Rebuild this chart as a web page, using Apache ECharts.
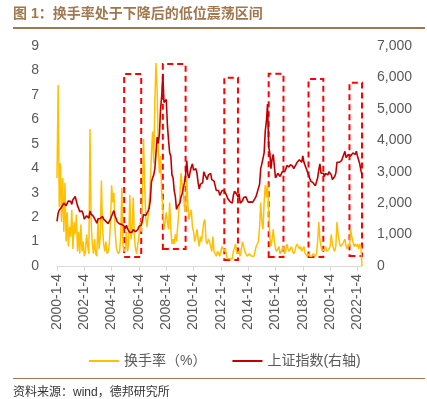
<!DOCTYPE html>
<html>
<head>
<meta charset="utf-8">
<script src="https://cdn.jsdelivr.net/npm/echarts@6/dist/echarts.min.js"></script>
<style>
  html, body { margin: 0; padding: 0; background: #fff; }
  #chart { width: 427px; height: 399px; }
</style>
</head>
<body>
<div id="chart"></div>
<script>
// monthly samples, 2000-01 .. 2022-05
const turnover = [
  3.6, 7.4, 2.4, 4.2, 1.8, 3.6, 1.4, 3.4, 1.0, 2.2, 0.8, 1.6,
  1.2, 2.3, 0.7, 1.8, 1.3, 2.1, 0.6, 1.4, 0.5, 1.7, 0.6, 1.0,
  0.4, 0.6, 1.3, 0.8, 0.5, 5.6, 1.8, 0.9, 0.5, 1.1, 0.5, 0.4,
  1.9, 0.7, 1.2, 3.5, 1.6, 0.9, 0.6, 1.0, 0.5, 0.6, 0.9, 1.8,
  3.3, 2.6, 3.0, 1.5, 0.8, 0.6, 0.5, 0.6, 1.2, 3.2, 0.8, 0.6,
  0.7, 1.4, 0.6, 0.9, 2.9, 1.1, 1.5, 2.8, 1.2, 0.7, 0.5, 0.9,
  1.2, 1.8, 1.4, 2.6, 5.2, 3.4, 2.0, 1.6, 2.0, 2.6, 3.4, 4.6,
  5.5, 4.2, 6.8, 8.3, 7.2, 4.8, 3.8, 4.5, 3.0, 2.4, 1.5, 1.8,
  2.2, 1.8, 1.5, 2.6, 1.5, 0.9, 1.1, 0.9, 1.3, 1.0, 1.6, 2.2,
  2.9, 3.8, 3.3, 3.0, 2.4, 2.2, 3.6, 2.5, 1.9, 2.1, 2.3, 1.6,
  1.4, 1.0, 1.2, 1.5, 1.1, 0.8, 1.2, 1.0, 1.0, 1.8, 1.9, 1.0,
  0.9, 1.1, 1.0, 0.8, 0.6, 1.2, 0.6, 0.5, 0.4, 0.6, 0.5, 0.4,
  0.4, 0.8, 0.7, 0.6, 0.7, 0.4, 0.3, 0.3, 0.3, 0.3, 0.3, 0.6,
  0.6, 0.9, 0.5, 0.5, 0.6, 0.4, 0.7, 1.0, 0.8, 0.6, 0.5, 0.4,
  0.4, 0.5, 0.5, 0.4, 0.4, 0.4, 0.6, 0.8, 0.9, 1.0, 1.6, 2.6,
  1.8, 1.5, 2.6, 3.3, 2.8, 3.4, 2.3, 1.2, 0.8, 1.1, 1.5, 1.0,
  0.7, 0.6, 0.7, 0.8, 0.5, 0.6, 0.7, 0.8, 0.5, 0.6, 0.9, 0.7,
  0.6, 0.7, 0.8, 0.6, 0.5, 0.6, 0.8, 0.9, 0.8, 0.7, 0.8, 0.6,
  0.7, 0.8, 0.5, 0.5, 0.4, 0.5, 0.4, 0.4, 0.4, 0.5, 0.5, 0.4,
  0.5, 1.0, 1.8, 1.1, 0.8, 0.6, 0.6, 0.7, 0.8, 0.6, 0.6, 0.7,
  0.8, 1.3, 0.9, 0.7, 0.6, 0.8, 1.8, 1.3, 1.0, 0.8, 0.8, 0.9,
  1.0, 1.1, 0.8, 0.7, 0.9, 0.8, 1.5, 1.2, 1.0, 0.8, 0.9, 0.8,
  0.9, 0.7, 0.9, 0.8, 0.0
];
const sseIndex = [
  1420, 1680, 1780, 1830, 1870, 1920, 2000, 2030, 1920, 1960, 2070, 2070,
  2060, 1960, 2110, 2120, 2210, 2240, 1920, 1830, 1730, 1690, 1750, 1650,
  1490, 1520, 1600, 1630, 1520, 1750, 1650, 1670, 1580, 1510, 1440, 1360,
  1500, 1510, 1510, 1520, 1580, 1490, 1480, 1420, 1370, 1350, 1400, 1500,
  1590, 1680, 1760, 1600, 1550, 1400, 1390, 1340, 1400, 1320, 1340, 1270,
  1190, 1300, 1180, 1160, 1060, 1080, 1080, 1160, 1160, 1090, 1100, 1160,
  1260, 1300, 1300, 1440, 1640, 1670, 1610, 1660, 1750, 1840, 2100, 2680,
  2800, 2900, 3100, 3600, 4100, 3900, 4200, 5000, 5400, 6100, 5200, 5200,
  5300, 4500, 4000, 3600, 3500, 2900, 2800, 2400, 2200, 1800, 1900, 1900,
  2000, 2200, 2300, 2500, 2650, 2900, 3350, 2900, 2800, 3000, 3150, 3250,
  3050, 3050, 3100, 2950, 2650, 2450, 2600, 2650, 2650, 3000, 2900, 2850,
  2750, 2900, 2950, 2950, 2750, 2750, 2700, 2550, 2400, 2450, 2400, 2250,
  2250, 2400, 2350, 2400, 2350, 2250, 2150, 2100, 2050, 2100, 2000, 2250,
  2380, 2400, 2280, 2200, 2300, 2000, 2030, 2080, 2180, 2150, 2200, 2150,
  2030, 2070, 2040, 2030, 2030, 2050, 2150, 2220, 2350, 2400, 2600, 3100,
  3250, 3250, 3600, 4300, 4600, 5150, 3800, 3600, 3100, 3400, 3550, 3550,
  2800, 2750, 2950, 2950, 2850, 2900, 3000, 3050, 3000, 3080, 3200, 3150,
  3150, 3220, 3250, 3180, 3100, 3150, 3230, 3300, 3350, 3380, 3380, 3300,
  3500, 3300, 3200, 3100, 3100, 2900, 2800, 2700, 2750, 2650, 2600, 2550,
  2550, 2800, 3050, 3250, 2950, 2950, 2950, 2850, 2950, 2950, 2900, 3000,
  3050, 2900, 2750, 2800, 2850, 2950, 3300, 3350, 3300, 3250, 3350, 3450,
  3550, 3650, 3450, 3450, 3550, 3600, 3500, 3500, 3600, 3570, 3550, 3650,
  3500, 3450, 3250, 3050, 2900
];
// dashed boxes: [start, end, low, high] on the left axis
const boxes = [
  ["2004-12-4", "2006-3-4", 0.37, 7.85],
  ["2007-10-4", "2009-6-4", 0.7, 8.26],
  ["2012-4-4", "2013-4-4", 0.25, 7.7],
  ["2015-7-4", "2016-8-4", 0.37, 7.86],
  ["2018-6-4", "2019-7-4", 0.37, 7.65],
  ["2021-6-4", "2022-5-4", 0.41, 7.5]
];

const dates = [];
for (let y = 2000; y <= 2022; y++) {
  for (let m = 1; m <= 12; m++) {
    if (dates.length < turnover.length) dates.push(y + "-" + m + "-4");
  }
}

const FONT = "Liberation Sans, Noto Sans CJK SC, sans-serif";
const brown = "#a0774f";
const grey = "#595959";

const chart = echarts.init(document.getElementById("chart"));
chart.setOption({
  animation: false,
  textStyle: { fontFamily: FONT },
  grid: { left: 57, right: 65, top: 46, bottom: 133 },
  legend: {
    left: 84,
    top: 349,
    icon: "rect",
    itemWidth: 30,
    itemHeight: 2,
    itemGap: 26,
    textStyle: { color: grey, fontSize: 14, fontFamily: FONT },
    data: ["换手率（%）", "上证指数(右轴)"]
  },
  xAxis: {
    type: "category",
    data: dates,
    boundaryGap: false,
    axisLine: { lineStyle: { color: "#d9d9d9" } },
    axisTick: { interval: (i) => i % 24 === 0, length: 5, lineStyle: { color: "#d9d9d9" } },
    axisLabel: {
      interval: (i) => i % 24 === 0,
      rotate: 90,
      color: grey,
      fontSize: 14,
      margin: 8
    }
  },
  yAxis: [
    {
      type: "value",
      min: 0, max: 9, interval: 1,
      splitLine: { show: false },
      axisLine: { show: false },
      axisTick: { show: false },
      axisLabel: { color: grey, fontSize: 14, margin: 18 }
    },
    {
      type: "value",
      min: 0, max: 7000, interval: 1000,
      splitLine: { show: false },
      axisLine: { show: false },
      axisTick: { show: false },
      axisLabel: {
        color: grey, fontSize: 14, margin: 15,
        formatter: (v) => v.toLocaleString("en-US")
      }
    }
  ],
  series: [
    {
      name: "换手率（%）",
      type: "line",
      data: turnover,
      symbol: "none",
      lineStyle: { color: "#ffc000", width: 1.5 },
      itemStyle: { color: "#ffc000" },
      markArea: {
        silent: true,
        itemStyle: {
          color: "rgba(0,0,0,0)",
          borderColor: "#ff0000",
          borderWidth: 2,
          borderType: [6, 4]
        },
        data: boxes.map((b) => [
          { xAxis: b[0], yAxis: b[2] },
          { xAxis: b[1], yAxis: b[3] }
        ])
      },
      z: 2
    },
    {
      name: "上证指数(右轴)",
      type: "line",
      yAxisIndex: 1,
      data: sseIndex,
      symbol: "none",
      lineStyle: { color: "#c00000", width: 1.6 },
      itemStyle: { color: "#c00000" },
      z: 3
    }
  ],
  graphic: [
    {
      type: "text", left: 13, top: 7,
      style: { text: "图 1：换手率处于下降后的低位震荡区间", fill: brown, font: "bold 14px " + FONT }
    },
    { type: "rect", shape: { x: 13, y: 27, width: 412, height: 2 }, style: { fill: brown } },
    { type: "rect", shape: { x: 13, y: 378, width: 412, height: 1 }, style: { fill: brown } },
    {
      type: "text", left: 13, top: 387,
      style: { text: "资料来源：wind，德邦研究所", fill: "#333", font: "12px " + FONT }
    }
  ]
});
</script>
</body>
</html>
